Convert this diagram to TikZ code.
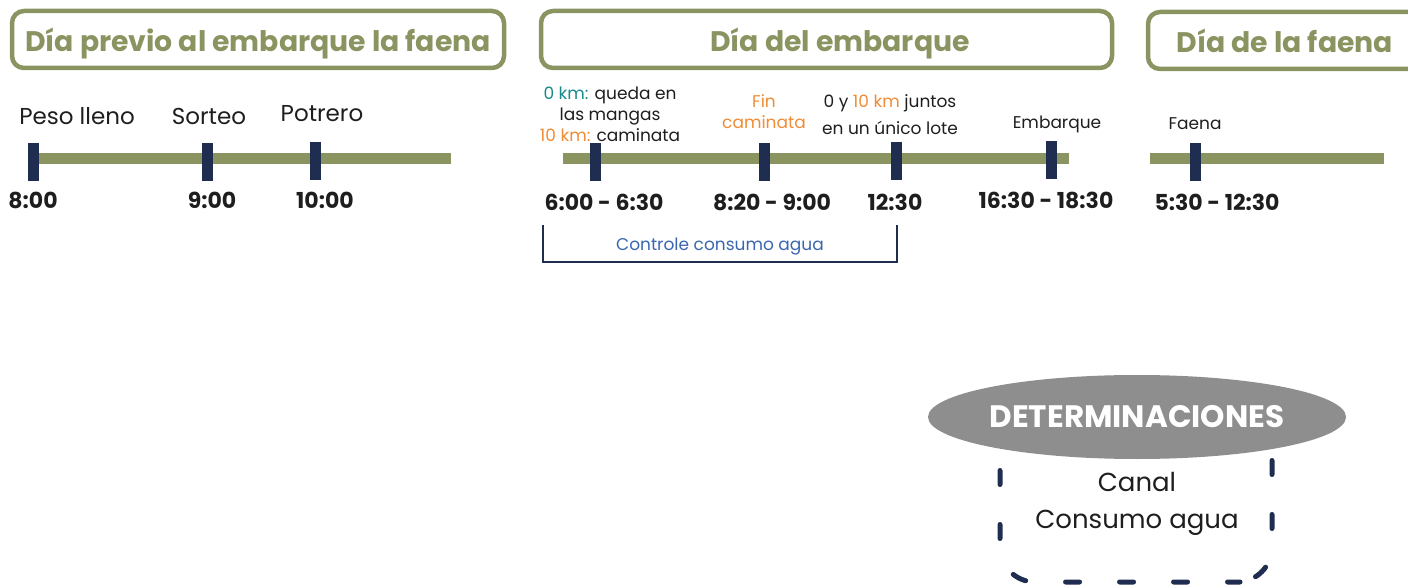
\documentclass[tikz,border=0pt]{standalone}
\usepackage{fontspec}
\setmainfont{Poppins}
\usetikzlibrary{shapes.geometric, positioning}
\definecolor{oliva}{HTML}{8A9461}
\definecolor{marino}{HTML}{1F2D50}
\definecolor{naranja}{HTML}{F08C35}
\definecolor{verdeazul}{HTML}{1A8A8C}
\definecolor{azul}{HTML}{3A66B0}
\definecolor{gris}{HTML}{8E8E8E}
\definecolor{tinta}{HTML}{1E1E1E}
\tikzset{
  daybox/.style = {draw=oliva, line width=4.5pt, rounded corners=12pt, text=oliva,
    font=\fontsize{28.3}{32}\selectfont\bfseries, inner sep=0pt, minimum height=57pt,
    text height=25pt, text depth=0pt},
  bar/.style = {oliva, line width=11pt},
  tick/.style = {fill=marino, minimum width=11pt, minimum height=38pt, inner sep=0pt},
  evt/.style = {text=tinta, font=\fontsize{23}{27}\selectfont, inner sep=0pt},
  hora/.style = {text=tinta, font=\fontsize{22}{25}\selectfont\bfseries, inner sep=0pt},
  nota/.style = {text=tinta, align=center, inner sep=0pt, font=\fontsize{17}{21}\selectfont},
  grande/.style = {text=tinta, inner sep=0pt, font=\fontsize{26}{30}\selectfont},
  punteado/.style = {marino, line width=5pt, line cap=round, rounded corners=35pt,
    dash pattern=on 14pt off 40pt},
}

\begin{document}
\begin{tikzpicture}[x=1pt, y=-1pt]
\clip (0,0) rectangle (1408,585);

% encabezados
\node [daybox, minimum width=492pt] (dia1) at (258,39.5) {Día previo al embarque la faena};
\node [daybox, minimum width=571pt] (dia2) at (826.5,39.5) {\hspace*{27pt}Día del embarque};
\node [daybox, minimum width=274pt] (dia3) at (1285,40.5) {Día de la faena};

% dia previo
\coordinate (a0) at (33,158.5);
\coordinate (a1) at (451,158.5);
\draw [bar] (a0) -- (a1);
\node [tick] (t1) at (33,162) {};
\node [tick] (t2) at (207,162) {};
\node [tick] (t3) at (315,161) {};
\node [evt] (peso) at (77,116) {Peso lleno};
\node [evt] (sorteo) at (209,116) {Sorteo};
\node [evt] (potrero) at (322,114) {Potrero};
\node [hora] (h1) at (33,200) {8:00};
\node [hora] (h2) at (212,200) {9:00};
\node [hora] (h3) at (325,200) {10:00};

% dia del embarque
\coordinate (b0) at (563,159);
\coordinate (b1) at (1069,159);
\draw [bar] (b0) -- (b1);
\node [tick] (u1) at (595,162) {};
\node [tick] (u2) at (764,162) {};
\node [tick] (u3) at (896,161) {};
\node [tick] (u4) at (1051,160) {};
\node [nota] (km) at (610,114) {\textcolor{verdeazul}{0 km:} queda en\\las mangas\\\textcolor{naranja}{10 km:} caminata};
\node [nota, text=naranja] (fin) at (764,112) {Fin\\caminata};
\node [nota, font=\fontsize{17}{27}\selectfont] (juntos) at (890,115) {0 y \textcolor{naranja}{10 km} juntos\\en un único lote};
\node [nota] (emb) at (1057,124) {Embarque};
\node [hora] (g1) at (604,202) {6:00 - 6:30};
\node [hora] (g2) at (772,202) {8:20 - 9:00};
\node [hora] (g3) at (895,202) {12:30};
\node [hora] (g4) at (1046,200) {16:30 - 18:30};
\coordinate (c1) at (543,225);
\coordinate (c2) at (897,225);
\draw [marino, line width=2pt] (c1) -- ++(0,37) -| (c2);
\node [nota, text=azul] (agua) at (720,247) {Controle consumo agua};

% dia de la faena
\coordinate (d0) at (1150,159);
\coordinate (d1) at (1384,159);
\draw [bar] (d0) -- (d1);
\node [tick] (v1) at (1195,162) {};
\node [nota] (faena) at (1195,124) {Faena};
\node [hora] (f1) at (1217,202) {5:30 - 12:30};

% determinaciones
\draw [punteado, dash phase=23.5pt] (1272,430) -- (1272,582) -- (1237,582);
\draw [punteado, dash phase=13.5pt] (1000,430) -- (1000,582) -- (1240,582);
\node [ellipse, fill=gris, minimum width=418pt, minimum height=84pt, inner sep=0pt,
  text=white, font=\fontsize{31}{34}\selectfont\bfseries] (det) at (1137,417) {DETERMINACIONES};
\node [grande] (canal) at (1137,482) {Canal};
\node [grande] (consumo) at (1137,523) {Consumo agua};
\end{tikzpicture}
\end{document}
